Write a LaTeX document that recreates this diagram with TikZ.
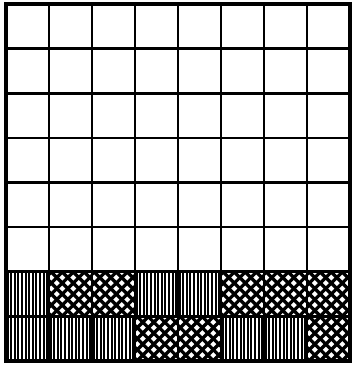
\documentclass[tikz,border=0pt]{standalone}
\newcommand\myvcell[2]{%
  \begin{scope}
    \clip ({6+43*#1},{4+44.625*#2}) rectangle ++(43,44.625);
    \foreach \k in {0,...,12}
      \draw[stripe] ({6+43*#1+1.6+3.6*\k},{4+44.625*#2}) -- ++(0,44.625);
  \end{scope}}
\newcommand\myxcell[2]{%
  \begin{scope}
    \clip ({6+43*#1},{4+44.625*#2}) rectangle ++(43,44.625);
    \foreach \k in {-5,...,4} {
      \draw[hatch] ({6+43*#1+2+11*\k},{4+44.625*#2}) -- ++(60,60);
      \draw[hatch] ({6+43*#1+2+11*\k},{4+44.625*#2+44.625}) -- ++(60,-60);
    }
  \end{scope}}
\begin{document}
\begin{tikzpicture}[x=1pt,y=-1pt,
  stripe/.style={line width=1.9pt,black},
  hatch/.style={line width=3.3pt,black},
  gridline/.style={line width=2.6pt,black},
  border/.style={line width=3.2pt,black}]
\useasboundingbox (0,0) rectangle (352,365);
\fill[white] (0,0) rectangle (352,365);
% patterned rows
\foreach \c/\t in {0/V,1/X,2/X,3/V,4/V,5/X,6/X,7/X} {
  \if\t V\myvcell{\c}{6}\else\myxcell{\c}{6}\fi
}
\foreach \c/\t in {0/V,1/V,2/V,3/X,4/X,5/V,6/V,7/X} {
  \if\t V\myvcell{\c}{7}\else\myxcell{\c}{7}\fi
}
% grid
\foreach \i in {1,...,7}
  \draw[gridline] ({6+43*\i},4) -- ({6+43*\i},361);
\foreach \j in {1,...,7}
  \draw[gridline] (6,{4+44.625*\j}) -- (350,{4+44.625*\j});
\draw[border] (6,4) rectangle (350,361);
\end{tikzpicture}
\end{document}
